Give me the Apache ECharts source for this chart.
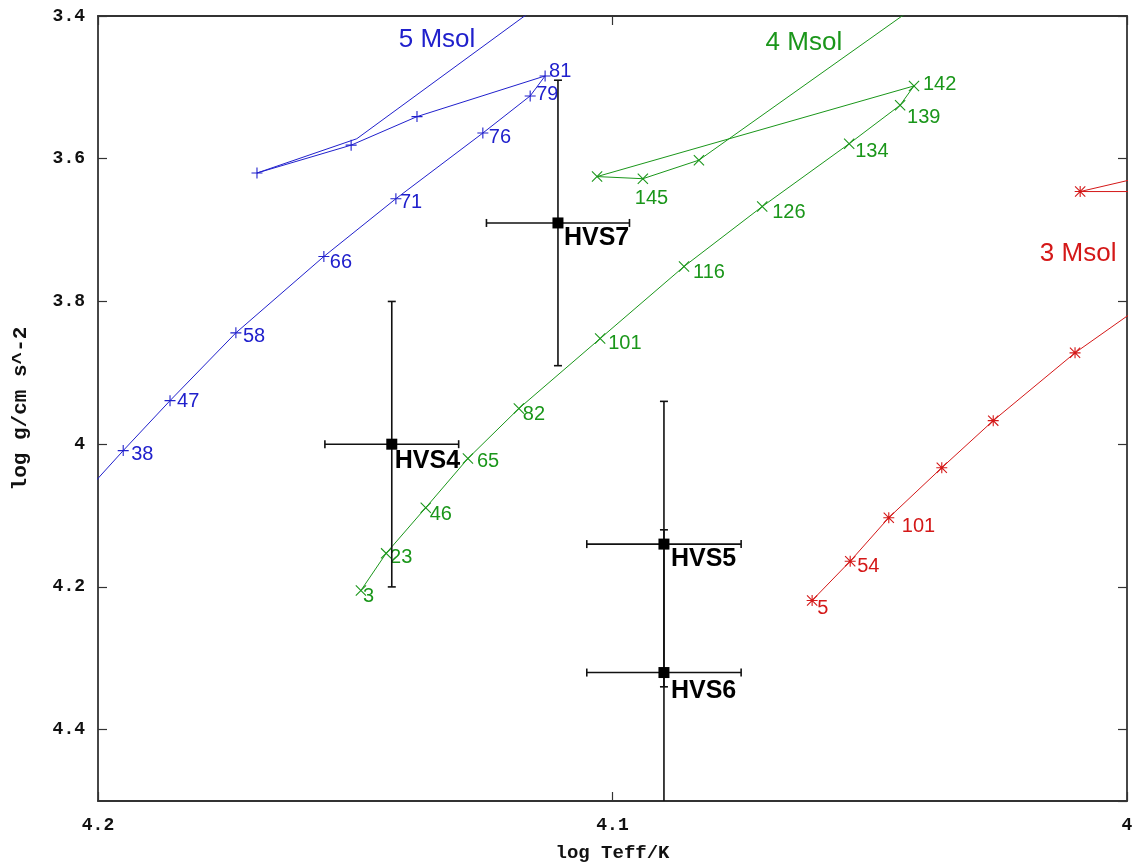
<!DOCTYPE html>
<html>
<head>
<meta charset="utf-8">
<title>Hypervelocity stars and evolutionary tracks</title>
<script src="https://cdn.jsdelivr.net/npm/echarts@6/dist/echarts.min.js"></script>
<style>
  html, body { margin: 0; padding: 0; background: #fff; }
  #chart { width: 1142px; height: 868px; }
</style>
</head>
<body>
<div id="chart"></div>
<script>
// ---------------- data ----------------
// Axis ranges (log Teff runs right-to-left, log g top-to-bottom)
const xRange = [4.0, 4.2];
const xStep = 0.1;
const yRange = [3.4, 4.5];
const yStep = 0.2;

// Track names
const trackNames = ['5 Msol', '4 Msol', '3 Msol'];

// 5 Msol track: age labels ('' = marked point without label, null = path point only)
const track5Teff = [4.2019, 4.1951, 4.1860, 4.1732, 4.1561, 4.1421, 4.1252, 4.1160, 4.1131, 4.1380, 4.1508, 4.1691, 4.1497, 4.1102];
const track5Logg = [4.063, 4.009, 3.939, 3.844, 3.737, 3.656, 3.564, 3.512, 3.484, 3.541, 3.581, 3.620, 3.572, 3.3636];
const track5Age  = [null, '38', '47', '58', '66', '71', '76', '79', '81', '', '', '', null, null];

// 4 Msol track
const track4Teff = [4.1489, 4.1440, 4.1363, 4.1281, 4.1182, 4.1024, 4.0861, 4.0709, 4.0540, 4.0441, 4.0414, 4.1030, 4.0941, 4.0832, 4.0363];
const track4Logg = [4.205, 4.153, 4.089, 4.020, 3.950, 3.852, 3.751, 3.667, 3.579, 3.525, 3.498, 3.625, 3.628, 3.602, 3.362];
const track4Age  = ['3', '23', '46', '65', '82', '101', '116', '126', '134', '139', '142', '', '145', '', null];

// 3 Msol track
const track3Teff = [4.0612, 4.0538, 4.0463, 4.0360, 4.0260, 4.0101, 3.9936, 3.9897, 3.9936, 4.0091, 3.9936];
const track3Logg = [4.219, 4.164, 4.103, 4.033, 3.967, 3.872, 3.788, 3.686, 3.646, 3.646, 3.620];
const track3Age  = ['5', '54', '101', '', '', '', null, null, null, '', null];

// Hypervelocity stars with 1-sigma errors
const starNames   = ['HVS4', 'HVS5', 'HVS6', 'HVS7'];
const starTeff    = [4.1429, 4.0900, 4.0900, 4.1106];
const starTeffErr = [0.0130, 0.0150, 0.0150, 0.0139];
const starLogg    = [4.00, 4.14, 4.32, 3.69];
const starLoggErr = [0.20, 0.20, 0.20, 0.20];

// ---------------- layout & style ----------------
const trackColors = ['#2020cc', '#1a961a', '#d41818'];
const trackNamePos = [[4.1341, 3.4336], [4.0628, 3.4378], [4.0095, 3.7331]];

// marker glyphs: plus, cross, asterisk
const PLUS  = 'M0,5.4H12V6.6H0Z M5.4,0H6.6V12H5.4Z';
const CROSS = 'M0,0.85L0.85,0L12,11.15L11.15,12Z M11.15,0L12,0.85L0.85,12L0,11.15Z';
const trackSymbols = ['path://' + PLUS, 'path://' + CROSS, 'path://' + PLUS + ' ' + CROSS];

// label nudges [dx from marker centre to text start, dy to text middle]
const labelNudge = [
  { '38': [8, 4], '47': [7, 1], '58': [7, 4], '66': [6, 6], '71': [4, 4], '76': [6, 4], '79': [6, -1], '81': [4, -4] },
  { '3': [2, 6], '23': [4, 4], '46': [4, 7], '65': [9, 3], '82': [4, 6], '101': [8, 5], '116': [9, 6],
    '126': [10, 6], '134': [6, 8], '139': [7, 12], '142': [9, -1], '145': [-8, 20] },
  { '5': [5, 8], '54': [7, 5], '101': [13, 9] }
];
const starNudge = [[3, 17], [7, 15], [7, 19], [6, 15]];

const MARK = 11;

function trackSeries(k, teff, logg, age) {
  const color = trackColors[k];
  const data = teff.map((t, i) => {
    const item = { value: [t, logg[i]] };
    if (age[i] === null) {
      item.symbol = 'none';
    } else if (age[i] !== '') {
      const n = labelNudge[k][age[i]] || [6, 5];
      item.label = { show: true, formatter: age[i], offset: [n[0] - MARK / 2, n[1]] };
    }
    return item;
  });
  return {
    type: 'line',
    name: trackNames[k],
    data: data,
    symbol: trackSymbols[k],
    symbolSize: MARK,
    showAllSymbol: true,
    clip: true,
    lineStyle: { color: color, width: 1 },
    itemStyle: { color: color, borderWidth: 0, opacity: 1 },
    label: {
      show: false, position: 'right', distance: 0,
      color: color, fontSize: 20, fontFamily: 'Liberation Sans, Arial, sans-serif'
    },
    emphasis: { disabled: true },
    z: 3
  };
}

const axisFont = { fontFamily: 'Liberation Mono, DejaVu Sans Mono, monospace', fontWeight: 'bold', color: '#111' };
const frameLine = { show: true, onZero: false, lineStyle: { color: '#333', width: 1.8 } };
const tickStyle = { show: true, inside: true, length: 9, lineStyle: { color: '#333', width: 1.2 } };

const option = {
  animation: false,
  backgroundColor: '#fff',
  grid: { left: 98, right: 15, top: 16, bottom: 66, containLabel: false },
  xAxis: [
    {
      type: 'value', min: xRange[0], max: xRange[1], interval: xStep, inverse: true, position: 'bottom',
      name: 'log Teff/K', nameLocation: 'middle', nameGap: 43,
      nameTextStyle: Object.assign({ fontSize: 19 }, axisFont),
      axisLine: frameLine, axisTick: tickStyle,
      axisLabel: Object.assign({ margin: 15, fontSize: 18 }, axisFont),
      splitLine: { show: false }
    },
    {
      type: 'value', min: xRange[0], max: xRange[1], interval: xStep, inverse: true, position: 'top',
      axisLine: frameLine, axisTick: tickStyle, axisLabel: { show: false }, splitLine: { show: false }
    }
  ],
  yAxis: [
    {
      type: 'value', min: yRange[0], max: yRange[1], interval: yStep, inverse: true, position: 'left',
      name: 'log g/cm s^-2', nameLocation: 'middle', nameGap: 67, nameRotate: 90,
      nameTextStyle: Object.assign({ fontSize: 21 }, axisFont),
      axisLine: frameLine, axisTick: tickStyle,
      axisLabel: Object.assign({ margin: 13, fontSize: 18, showMaxLabel: false }, axisFont),
      splitLine: { show: false }
    },
    {
      type: 'value', min: yRange[0], max: yRange[1], interval: yStep, inverse: true, position: 'right',
      axisLine: frameLine, axisTick: tickStyle, axisLabel: { show: false }, splitLine: { show: false }
    }
  ],
  series: [
    trackSeries(0, track5Teff, track5Logg, track5Age),
    trackSeries(1, track4Teff, track4Logg, track4Age),
    trackSeries(2, track3Teff, track3Logg, track3Age),
    // mass labels of the tracks
    {
      type: 'scatter',
      symbolSize: 0,
      itemStyle: { opacity: 1 },
      data: trackNames.map((n, k) => ({
        value: trackNamePos[k],
        label: {
          show: true, formatter: n, position: 'inside', color: trackColors[k],
          fontSize: 26, fontFamily: 'Liberation Sans, Arial, sans-serif'
        }
      })),
      emphasis: { disabled: true },
      z: 4
    },
    // error bars of the stars
    {
      type: 'custom',
      clip: true,
      data: starNames.map((n, i) => [starTeff[i], starLogg[i], starTeffErr[i], starLoggErr[i]]),
      renderItem: function (params, api) {
        const x = api.value(0), y = api.value(1), ex = api.value(2), ey = api.value(3);
        const c = api.coord([x, y]);
        const xl = api.coord([x + ex, y])[0];
        const xr = api.coord([x - ex, y])[0];
        const yt = api.coord([x, y - ey])[1];
        const yb = api.coord([x, y + ey])[1];
        const cap = 4;
        const style = { stroke: '#111', lineWidth: 1.6 };
        const seg = (x1, y1, x2, y2) => ({ type: 'line', shape: { x1, y1, x2, y2 }, style });
        return {
          type: 'group',
          children: [
            seg(xl, c[1], xr, c[1]),
            seg(xl, c[1] - cap, xl, c[1] + cap),
            seg(xr, c[1] - cap, xr, c[1] + cap),
            seg(c[0], yt, c[0], yb),
            seg(c[0] - cap, yt, c[0] + cap, yt),
            seg(c[0] - cap, yb, c[0] + cap, yb)
          ]
        };
      },
      z: 5
    },
    // the stars
    {
      type: 'scatter',
      symbol: 'rect',
      symbolSize: 11,
      itemStyle: { color: '#000', opacity: 1 },
      data: starNames.map((n, i) => ({
        value: [starTeff[i], starLogg[i]],
        label: { show: true, formatter: n, offset: [starNudge[i][0] - 5.5, starNudge[i][1]] }
      })),
      label: {
        position: 'right', distance: 0, color: '#000',
        fontSize: 25, fontWeight: 'bold', fontFamily: 'Liberation Sans, Arial, sans-serif'
      },
      emphasis: { disabled: true },
      z: 6
    }
  ]
};

const chart = echarts.init(document.getElementById('chart'), null, { renderer: 'canvas' });
chart.setOption(option);
</script>
</body>
</html>
